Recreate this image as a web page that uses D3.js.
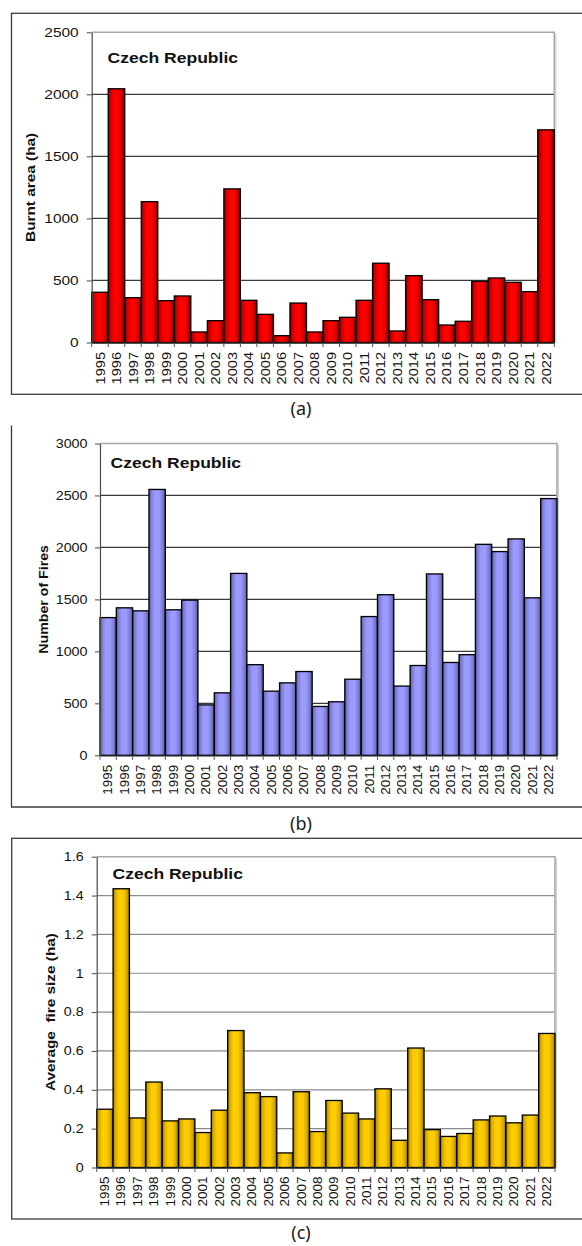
<!DOCTYPE html>
<html>
<head>
<meta charset="utf-8">
<script src="https://cdn.jsdelivr.net/npm/d3@7/dist/d3.min.js"></script>
<style>
  html, body { margin: 0; padding: 0; background: #fff; }
  svg { display: block; }
  text { font-family: "Liberation Sans", Arial, sans-serif; }
  text.panel-label { font-family: "Noto Sans", "Open Sans", sans-serif; }
</style>
</head>
<body>
<div id="chart"></div>
<script>
// ---------------- DATA ----------------
const years = ["1995","1996","1997","1998","1999","2000","2001","2002","2003","2004",
  "2005","2006","2007","2008","2009","2010","2011","2012","2013","2014",
  "2015","2016","2017","2018","2019","2020","2021","2022"];

const burntArea = [405, 2045, 361, 1135, 337, 375, 85, 176, 1238, 340,
  227, 55, 318, 85, 176, 203, 340, 639, 93, 539,
  345, 141, 171, 493, 520, 485, 410, 1714];

const numberOfFires = [1325, 1419, 1390, 2558, 1400, 1493, 485, 601, 1750, 872,
  617, 697, 806, 470, 515, 732, 1335, 1545, 666, 864,
  1745, 893, 968, 2030, 1960, 2082, 1515, 2470];

const avgFireSize = [0.30, 1.435, 0.255, 0.44, 0.24, 0.25, 0.18, 0.295, 0.705, 0.385,
  0.365, 0.075, 0.39, 0.185, 0.345, 0.28, 0.25, 0.405, 0.14, 0.615,
  0.195, 0.16, 0.175, 0.245, 0.265, 0.23, 0.27, 0.69];

const ticksA = [0, 500, 1000, 1500, 2000, 2500];
const tickLabelsA = ["0", "500", "1000", "1500", "2000", "2500"];
const ticksB = [0, 500, 1000, 1500, 2000, 2500, 3000];
const tickLabelsB = ["0", "500", "1000", "1500", "2000", "2500", "3000"];
const ticksC = [0, 0.2, 0.4, 0.6, 0.8, 1.0, 1.2, 1.4, 1.6];
const tickLabelsC = ["0", "0.2", "0.4", "0.6", "0.8", "1", "1.2", "1.4", "1.6"];

const countryTitle = "Czech Republic";
const yTitles = ["Burnt area (ha)", "Number of Fires", "Average  fire size (ha)"];
const panelLabels = ["(a)", "(b)", "(c)"];

// ---------------- DRAWING ----------------
const W = 582, H = 1246;
const svg = d3.select("#chart").append("svg").attr("width", W).attr("height", H);
svg.append("rect").attr("width", W).attr("height", H).attr("fill", "#fff");

const defs = svg.append("defs");
function makeGrad(id, dark, mid, base) {
  const g = defs.append("linearGradient").attr("id", id)
    .attr("x1", "0").attr("x2", "1").attr("y1", "0").attr("y2", "0");
  [[0, dark], [0.12, mid], [0.35, base], [0.6, base], [0.85, mid], [1, dark]]
    .forEach(([o, c]) => g.append("stop").attr("offset", o).attr("stop-color", c));
}
makeGrad("gRed", "#6e0000", "#c40000", "#ff0000");
makeGrad("gBlue", "#4f4f8c", "#7b7bd2", "#9b9bff");
makeGrad("gGold", "#7d6300", "#d4a800", "#ffcc00");

function stretch(sel, k) {
  sel.each(function () {
    const L = this.getComputedTextLength();
    if (L > 0) d3.select(this).attr("textLength", L * k).attr("lengthAdjust", "spacingAndGlyphs");
  });
}

function drawPanel(o) {
  const g = svg.append("g");

  // outer frame
  if (o.frame.full) {
    g.append("rect").attr("x", o.frame.x).attr("y", o.frame.y)
      .attr("width", o.frame.w).attr("height", o.frame.h)
      .attr("fill", "none").attr("stroke", "#3c3c3c").attr("stroke-width", 1.3);
  } else {
    g.append("path")
      .attr("d", `M${o.frame.x},${o.frame.y}V${o.frame.y + o.frame.h}H${o.frame.x + o.frame.w}`)
      .attr("fill", "none").attr("stroke", "#3c3c3c").attr("stroke-width", 1.3);
  }

  const x = d3.scaleBand().domain(years).range([o.left, o.right]).padding(0);
  const y = d3.scaleLinear().domain([0, o.ticks[o.ticks.length - 1]]).range([o.bottom, o.top]);

  // gridlines
  g.append("g").selectAll("line").data(o.ticks.slice(1, -1)).join("line")
    .attr("x1", o.left).attr("x2", o.right)
    .attr("y1", d => y(d)).attr("y2", d => y(d))
    .attr("stroke", o.gridColor).attr("stroke-width", 1.2);

  // plot border (top & right, gray with shadow)
  g.append("path")
    .attr("d", `M${o.left},${y(o.ticks[o.ticks.length - 1])}H${o.right}V${o.bottom}`)
    .attr("fill", "none").attr("stroke", "#a8a8a8").attr("stroke-width", 1.6);
  g.append("path")
    .attr("d", `M${o.right + 1.5},${y(o.ticks[o.ticks.length - 1]) + 1.5}V${o.bottom}`)
    .attr("fill", "none").attr("stroke", "#d0d0d0").attr("stroke-width", 1.2);

  // bars
  g.append("g").selectAll("rect").data(o.values).join("rect")
    .attr("x", (d, i) => x(years[i]))
    .attr("y", d => y(d))
    .attr("width", x.bandwidth())
    .attr("height", d => y(0) - y(d))
    .attr("fill", `url(#${o.grad})`)
    .attr("stroke", "#000").attr("stroke-width", 1.3);

  // y axis
  const ya = g.append("g").attr("transform", `translate(${o.left},0)`)
    .call(d3.axisLeft(y).tickValues(o.ticks).tickFormat((d, i) => o.tickLabels[i])
      .tickSize(5).tickPadding(o.tickPad).tickSizeOuter(0));
  ya.attr("font-family", null);
  ya.select(".domain").attr("stroke", "#4a4a4a").attr("stroke-width", 1.2);
  ya.selectAll(".tick line").attr("stroke", "#4a4a4a");
  ya.selectAll(".tick text").attr("font-size", o.fs).attr("fill", "#111")
    .call(stretch, 1.19);

  // x axis (labels)
  const xa = g.append("g").attr("transform", `translate(0,${o.bottom})`)
    .call(d3.axisBottom(x).tickSize(0).tickSizeOuter(0));
  xa.attr("font-family", null);
  xa.select(".domain").attr("stroke", "#222").attr("stroke-width", 1.3);
  xa.selectAll(".tick text")
    .attr("font-size", o.fs).attr("fill", "#111")
    .attr("transform", "rotate(-90)")
    .attr("text-anchor", "end")
    .attr("x", -o.xLabGap).attr("y", 0).attr("dy", "0.35em")
    .call(stretch, 1.12);

  // x tick marks at band boundaries
  const bounds = years.map(d => x(d)).concat([x(years[years.length - 1]) + x.bandwidth()]);
  g.append("g").selectAll("line").data(bounds).join("line")
    .attr("x1", d => d).attr("x2", d => d)
    .attr("y1", o.bottom).attr("y2", o.bottom + 4.5)
    .attr("stroke", "#555").attr("stroke-width", 1);

  // chart title
  g.append("text").attr("x", o.titleX).attr("y", o.titleY)
    .attr("font-size", 15.5).attr("font-weight", "bold").attr("fill", "#111")
    .text(countryTitle).call(stretch, 1.13);

  // y-axis title
  g.append("text")
    .attr("transform", `translate(${o.yTitleX},${(o.top + o.bottom) / 2}) rotate(-90)`)
    .attr("text-anchor", "middle").attr("dy", "0.35em")
    .attr("font-size", o.yTitleFs).attr("font-weight", "bold").attr("fill", "#111")
    .style("white-space", "pre")
    .text(o.yTitle).call(stretch, 1.18);

  // panel label
  svg.append("text").attr("class", "panel-label")
    .attr("x", 301).attr("y", o.labelY)
    .attr("text-anchor", "middle").attr("dy", "0.35em")
    .attr("font-size", 18).attr("fill", "#1a1a1a")
    .text(o.label);
}

drawPanel({
  values: burntArea, ticks: ticksA, tickLabels: tickLabelsA, grad: "gRed",
  frame: { full: true, x: 11.5, y: 13.3, w: 574, h: 381 },
  left: 91.7, right: 554.3, top: 32.3, bottom: 342.5,
  gridColor: "#3a3a3a", fs: 13, tickPad: 8, xLabGap: 9.5,
  titleX: 107.6, titleY: 62.7, yTitle: yTitles[0], yTitleX: 30, yTitleFs: 13,
  label: panelLabels[0], labelY: 409
});

drawPanel({
  values: numberOfFires, ticks: ticksB, tickLabels: tickLabelsB, grad: "gBlue",
  frame: { full: false, x: 11.5, y: 425.5, w: 574, h: 381.5 },
  left: 100, right: 557, top: 443.5, bottom: 755.3,
  gridColor: "#3a3a3a", fs: 12, tickPad: 7.5, xLabGap: 9.5,
  titleX: 110.6, titleY: 468.3, yTitle: yTitles[1], yTitleX: 43.5, yTitleFs: 12,
  label: panelLabels[1], labelY: 824
});

drawPanel({
  values: avgFireSize, ticks: ticksC, tickLabels: tickLabelsC, grad: "gGold",
  frame: { full: true, x: 11.7, y: 838.3, w: 574, h: 380.7 },
  left: 96.7, right: 555, top: 856.7, bottom: 1167.5,
  gridColor: "#8a8a8a", fs: 12, tickPad: 8, xLabGap: 9,
  titleX: 112.5, titleY: 879, yTitle: yTitles[2], yTitleX: 50, yTitleFs: 13,
  label: panelLabels[2], labelY: 1233
});
</script>
</body>
</html>
